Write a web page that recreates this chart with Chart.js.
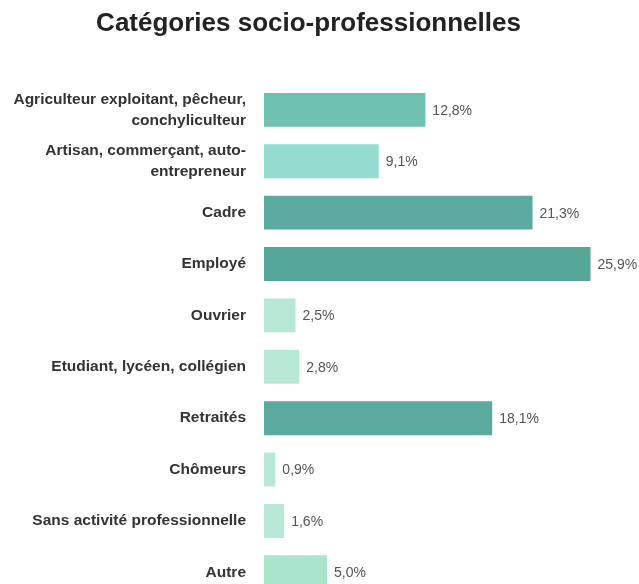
<!DOCTYPE html>
<html>
<head>
<meta charset="utf-8">
<script src="https://cdn.jsdelivr.net/npm/chart.js@4/dist/chart.umd.min.js"></script>
<style>
html,body{margin:0;padding:0;background:#fff;overflow:hidden}
canvas{display:block}
</style>
</head>
<body>
<canvas id="c" width="639" height="600"></canvas>
<script>
const categories=[
  ['Agriculteur exploitant, pêcheur,','conchyliculteur'],
  ['Artisan, commerçant, auto-','entrepreneur'],
  'Cadre','Employé','Ouvrier','Etudiant, lycéen, collégien','Retraités','Chômeurs','Sans activité professionnelle','Autre'
];
const shares=[12.8,9.1,21.3,25.9,2.5,2.8,18.1,0.9,1.6,5.0];
const barColors=['#6ec0b1','#93dccf','#5aab9d','#55a598','#b6e8d5','#b6e8d5','#5aab9d','#b9e9d6','#b9e9d6','#a8e5cc'];

const fmt=v=>v.toFixed(1).replace('.',',')+'%';
const FONT='"Liberation Sans", Arial, sans-serif';

const valueLabels={
  id:'valueLabels',
  afterDatasetsDraw(chart){
    const {ctx}=chart;const meta=chart.getDatasetMeta(0);
    ctx.save();
    ctx.font='14px '+FONT;
    ctx.fillStyle='#555';ctx.textAlign='left';ctx.textBaseline='middle';
    meta.data.forEach((bar,i)=>ctx.fillText(fmt(shares[i]),bar.x+7,bar.y+1));
    ctx.restore();
  }
};

new Chart(document.getElementById('c'),{
  type:'bar',
  data:{labels:categories,datasets:[{data:shares,backgroundColor:barColors,borderWidth:0,categoryPercentage:1,barPercentage:0.66}]},
  options:{
    indexAxis:'y',responsive:false,animation:false,
    layout:{padding:{right:22,bottom:2}},
    plugins:{
      legend:{display:false},tooltip:{enabled:false},
      title:{display:true,text:'Catégories socio-professionnelles',color:'#222',
        font:{family:FONT,size:26,weight:'bold',lineHeight:1.2},
        padding:{top:8,bottom:45}}
    },
    scales:{
      x:{display:false,min:0,max:28},
      y:{
        grid:{display:false,drawTicks:false},border:{display:false},
        afterFit(s){s.width=264;s.paddingTop=0;s.paddingBottom=0},
        ticks:{padding:18,color:'#333',font:{family:FONT,size:15.5,weight:'bold',lineHeight:1.35}}
      }
    }
  },
  plugins:[valueLabels]
});
</script>
</body>
</html>
